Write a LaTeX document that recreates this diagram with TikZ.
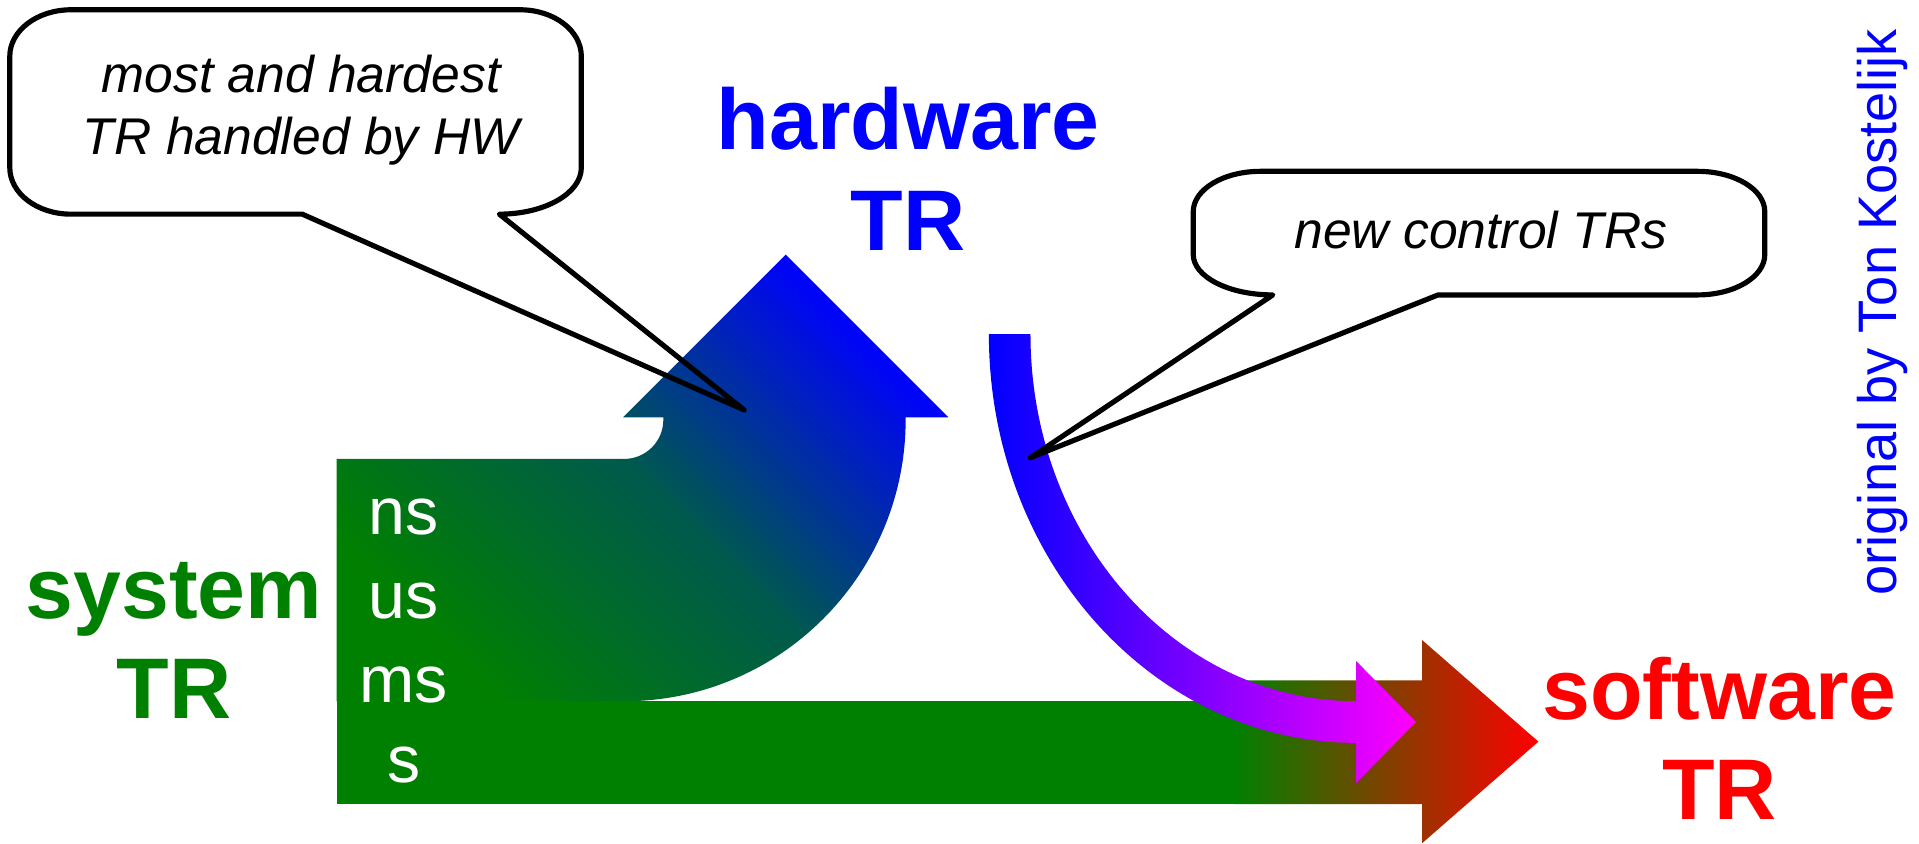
\documentclass[tikz,border=0pt]{standalone}
\usepackage{fontspec}
\setmainfont{Liberation Sans}
\definecolor{sysgreen}{RGB}{0,128,0}

\begin{document}
\begin{tikzpicture}[x=0.01cm, y=-0.01cm,
  big/.style={font=\fontsize{20}{24}\selectfont\bfseries, anchor=base, inner sep=0pt},
  unit/.style={font=\fontsize{15.4}{18}\selectfont, text=white, anchor=base, inner sep=0pt},
  note/.style={font=\fontsize{12}{14}\selectfont\itshape, anchor=base, inner sep=0pt},
  bubble/.style={draw, line width=1.2pt, line join=round}]
\useasboundingbox (0,0) rectangle (1568,689);
\shade[top color=blue, bottom color=sysgreen, middle color=sysgreen!70!blue, shading angle=-45] (275,573) -- (275,375) -- (510,375) arc[start angle=90, end angle=0, radius=32] -- (542,341) -- (509,341) -- (642,208) -- (775,341) -- (740,341) -- (740,343) arc[start angle=0, end angle=90, radius=230] -- cycle;
\fill[sysgreen] (275,573) rectangle (1012,657);
\shade[left color=sysgreen, right color=red] (1008,556) -- (1162,556) -- (1162,523) -- (1257,606) -- (1162,689) -- (1162,657) -- (1008,657) -- cycle;
\shade[left color=blue, right color=magenta] (808,273) arc[start angle=180, end angle=90, x radius=300, y radius=334] -- (1108,640) -- (1157,590) -- (1108,540) -- (1108,573) arc[start angle=90, end angle=180, x radius=266, y radius=300] -- cycle;
\node[unit] (t1) at (330,437) {ns};
\node[unit] (t2) at (330,505) {us};
\node[unit] (t3) at (330,574) {ms};
\node[unit] (t4) at (330,639) {s};
\node[big, text=blue] (h1) at (742,122) {hardware};
\node[big, text=blue] (h2) at (742,205) {TR};
\node[big, text=sysgreen] (s1) at (142,505) {system};
\node[big, text=sysgreen] (s2) at (142,587) {TR};
\node[big, text=red] (w1) at (1405,588) {software};
\node[big, text=red] (w2) at (1405,670) {TR};
\node[font=\fontsize{12.6}{15}\selectfont, text=blue, rotate=90, inner sep=0pt] (o1) at (1538,255) {original by Ton Kostelijk};
\coordinate (p1) at (608,335);
\coordinate (p2) at (842,374);
\draw[bubble] (247,175) -- (p1) -- (408,175) arc[start angle=90, end angle=0, x radius=67, y radius=38] -- (475,46) arc[start angle=0, end angle=-90, x radius=50, y radius=38] -- (58,8) arc[start angle=-90, end angle=-180, x radius=50, y radius=38] -- (8,137) arc[start angle=180, end angle=90, x radius=50, y radius=38] -- cycle;
\draw[bubble] (1175,241) -- (p2) -- (1040,241) arc[start angle=90, end angle=180, x radius=65, y radius=33] -- (975,173) arc[start angle=180, end angle=270, x radius=55, y radius=33] -- (1387,140) arc[start angle=270, end angle=360, x radius=55, y radius=33] -- (1442,208) arc[start angle=0, end angle=90, x radius=55, y radius=33] -- cycle;
\node[note] (c1) at (246,76) {most and hardest};
\node[note] (c2) at (246,126) {TR handled by HW};
\node[note] (c3) at (1210,203) {new control TRs};
\end{tikzpicture}
\end{document}
